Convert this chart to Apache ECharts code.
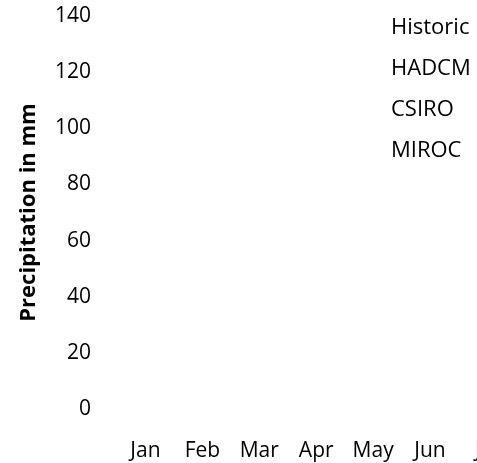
<!DOCTYPE html>
<html>
<head>
<meta charset="utf-8">
<script src="https://cdn.jsdelivr.net/npm/echarts@6/dist/echarts.min.js"></script>
<style>
  html, body { margin: 0; padding: 0; background: #fff; overflow: hidden; }
  /* the plot runs past the right edge of the window, as in the reference */
  #chart { width: 800px; height: 463px; }
</style>
</head>
<body>
<div id="chart"></div>
<script>
// Months on the x axis (only Jan..Jul are visible, the rest run off the canvas)
const months = ['Jan', 'Feb', 'Mar', 'Apr', 'May', 'Jun', 'Jul', 'Aug', 'Sep', 'Oct', 'Nov', 'Dec']
const seriesNames = ['Historic', 'HADCM', 'CSIRO', 'MIROC']

// No marks are drawn in the reference, so every month is empty
const historic = [null, null, null, null, null, null, null, null, null, null, null, null]
const hadcm = [null, null, null, null, null, null, null, null, null, null, null, null]
const csiro = [null, null, null, null, null, null, null, null, null, null, null, null]
const miroc = [null, null, null, null, null, null, null, null, null, null, null, null]

const FONT = 'Open Sans'

const chart = echarts.init(document.getElementById('chart'))
chart.setOption({
    animation: false,
    legend: {
        orient: 'vertical',
        left: 381,
        top: 12,
        icon: 'none',
        itemWidth: 0,
        itemHeight: 0,
        itemGap: 19,
        data: seriesNames,
        textStyle: { fontFamily: FONT, fontSize: 22, color: '#000' }
    },
    grid: { left: 117, width: 684, top: 16, bottom: 54 },
    xAxis: {
        type: 'category',
        data: months,
        axisLine: { show: false },
        axisTick: { show: false },
        axisLabel: { interval: 0, fontFamily: FONT, fontSize: 21, color: '#000', margin: 32 }
    },
    yAxis: {
        type: 'value',
        min: 0,
        max: 140,
        interval: 20,
        name: 'Precipitation in mm',
        nameLocation: 'middle',
        nameGap: 77,
        nameTextStyle: { fontFamily: FONT, fontSize: 22, fontWeight: 'bold', color: '#000' },
        axisLine: { show: false },
        axisTick: { show: false },
        splitLine: { show: false },
        axisLabel: { fontFamily: FONT, fontSize: 21, color: '#000', margin: 26 }
    },
    series: [
        { name: 'Historic', type: 'bar', data: historic, itemStyle: { color: '#4472c4' } },
        { name: 'HADCM', type: 'bar', data: hadcm, itemStyle: { color: '#ed7d31' } },
        { name: 'CSIRO', type: 'bar', data: csiro, itemStyle: { color: '#a5a5a5' } },
        { name: 'MIROC', type: 'bar', data: miroc, itemStyle: { color: '#ffc000' } }
    ]
})
</script>
</body>
</html>
